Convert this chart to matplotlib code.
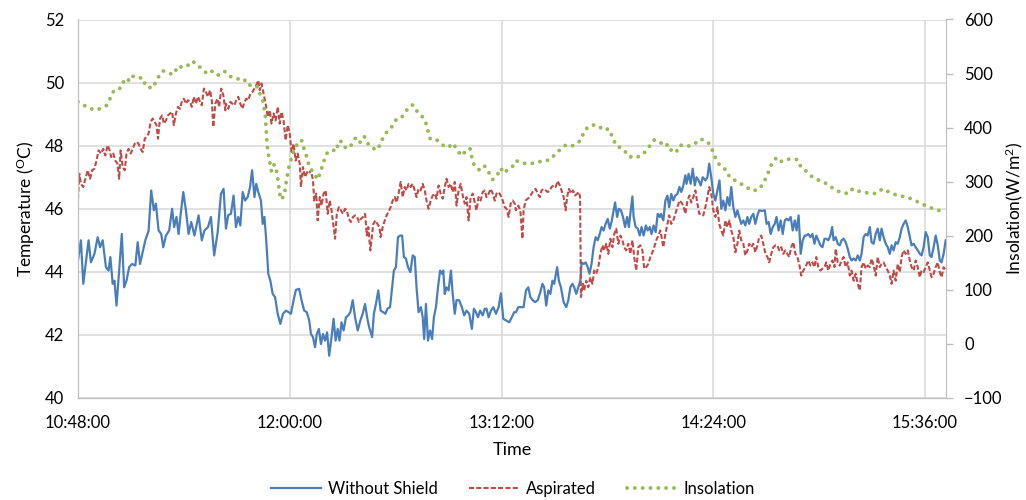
import matplotlib
matplotlib.use('Agg')
import matplotlib.pyplot as plt

plt.rcParams['font.family'] = ['Lato', 'DejaVu Sans']

# x axis: minutes after 10:48:00
tick_minutes = [0, 72, 144, 216, 288]
tick_labels = ['10:48:00', '12:00:00', '13:12:00', '14:24:00', '15:36:00']

# Without Shield (degC)
t_shield = [0.0, 1.0, 1.8, 2.5, 3.6, 4.4, 5.6, 6.7, 7.5, 8.4, 9.5, 10.4, 11.0, 11.8, 12.4,
            13.1, 14.0, 14.9, 15.7, 16.5, 17.4, 18.4, 19.5, 20.3, 21.1, 22.0, 22.9, 24.0, 24.9, 25.8,
            26.5, 27.4, 28.3, 29.0, 29.9, 31.0, 32.0, 32.7, 33.5, 34.2, 35.0, 35.8, 36.7, 37.6, 38.5,
            39.6, 41.0, 42.1, 43.0, 44.2, 45.2, 46.3, 47.5, 48.6, 49.5,
            50.3, 51.1, 52.0, 52.9, 53.7, 54.5, 55.2, 56.0, 56.8, 57.7, 58.5, 59.2, 60.0, 60.6, 61.3,
            62.2, 62.8, 63.4, 64.0, 64.7, 65.4, 66.2, 67.0, 67.9, 68.8, 69.7, 70.7, 71.6, 72.4, 73.3,
            74.1, 75.2, 76.0, 76.9, 77.8, 78.6, 79.2, 79.9, 80.6, 81.2, 81.9, 82.6, 83.3, 84.0, 84.7,
            85.4, 86.2, 86.9, 87.6, 88.3, 88.9, 89.6, 90.3, 91.1, 91.9, 92.6, 93.4, 94.2, 95.1, 96.0,
            96.8, 97.6, 98.3, 99.0,
            100.0, 100.6, 101.3, 102.1, 102.9, 103.8, 104.5, 105.2, 106.1, 106.8, 107.4, 108.1, 108.8,
            109.5, 110.2, 110.8, 111.5, 112.2, 113.0, 113.8, 114.5, 115.1, 115.8, 116.6, 117.2, 117.7,
            118.3, 119.0, 119.7, 120.4, 121.0, 121.7, 122.4, 123.1, 123.8, 124.2, 124.7, 125.3, 126.0,
            126.8, 127.4, 128.1, 128.7, 129.6, 130.5, 131.3, 132.1, 133.0, 133.9, 134.6, 135.3, 136.0,
            136.7, 137.6, 138.3, 138.9, 139.6, 140.4, 141.2, 142.1, 143.0, 143.8, 144.6, 145.5, 146.6,
            147.5, 148.3,
            148.9, 149.7, 151.5, 152.3, 153.1, 153.8, 154.6, 155.4, 156.3, 157.2, 157.9, 158.5, 159.2,
            159.9, 160.6, 161.3, 161.9, 162.9, 163.5, 164.2, 165.1, 166.0, 166.7, 167.4, 168.1, 168.7,
            169.4, 170.1, 170.8, 171.2, 171.9, 172.6, 173.3, 173.9, 174.6, 175.3, 176.0, 176.7, 177.4,
            178.0, 178.7, 179.4, 180.1, 180.8, 181.4, 182.1, 182.6, 183.3, 183.9, 184.6, 185.3, 186.0,
            186.7, 187.3, 187.8, 188.5, 188.9, 189.6, 190.3, 191.0, 191.6, 192.3, 193.1, 193.7, 194.4,
            195.0, 195.7, 196.4, 197.1, 197.8,
            198.2, 199.0, 199.7, 200.4, 201.0, 201.7, 202.4, 203.1, 203.8, 204.5, 205.1, 205.8, 206.5,
            206.9, 207.6, 208.3, 209.0, 209.7, 210.3, 211.0, 211.7, 212.4, 213.3, 214.0, 214.6, 215.3,
            216.0, 216.7, 217.4, 218.1, 218.7, 219.4, 220.1, 220.8, 221.5, 222.1, 222.8, 223.5, 224.2,
            224.8, 225.5, 226.2, 226.9, 227.6, 228.2, 228.9, 229.6, 230.3, 231.0, 231.6, 232.6, 233.5,
            234.1, 234.8, 235.5, 236.2, 236.9, 237.5, 238.2, 238.9, 239.6, 240.3, 240.9, 241.6, 242.3,
            243.0, 243.7, 244.3, 245.0, 245.7, 246.4, 247.1,
            247.5, 248.3, 249.0, 249.7, 250.4, 251.0, 251.7, 252.4, 253.1, 253.8, 254.4, 255.1, 255.8,
            256.4, 256.9, 257.6, 258.3, 259.0, 259.6, 260.3, 261.0, 261.7, 262.4, 263.0, 263.7, 264.4,
            265.1, 265.8, 266.4, 267.1, 267.8, 268.5, 269.2, 269.8, 270.5, 271.2, 271.9, 272.6, 273.2,
            273.9, 274.6, 275.3, 276.0, 276.6, 277.3, 278.0, 278.7, 279.4, 280.0, 280.7, 281.4, 282.1,
            282.8, 283.4, 284.1, 284.8, 285.5, 286.2, 286.8, 287.5, 288.2, 288.9, 289.6, 290.2, 290.9,
            291.6, 292.3, 293.0, 293.6, 294.3, 295.0]
shield = [44.36, 45.0, 43.62, 44.15, 45.0, 44.3, 44.57, 45.1, 44.78, 45.0, 44.15, 44.04, 44.47, 43.62, 43.72,
          42.93, 44.04, 45.2, 43.51, 43.72, 44.15, 44.25, 44.2, 44.94, 44.25, 44.62, 45.0, 45.3, 46.58, 45.95,
          46.16, 45.31, 45.2, 44.78, 45.15, 45.31, 46.0, 45.42, 45.74, 45.2, 45.9, 46.53, 45.95, 45.2, 45.58,
          45.15, 45.79, 45.0, 45.31, 45.42, 45.74, 44.52, 45.26, 46.47, 46.63,
          45.37, 45.8, 45.84, 46.42, 45.42, 45.74, 45.47, 46.53, 46.26, 46.37, 46.69, 47.22, 46.37, 46.79, 46.53,
          46.26, 45.52, 45.74, 45.0, 43.94, 43.72, 43.3, 43.2, 42.67, 42.35, 42.67, 42.77, 42.72, 42.67, 43.1,
          43.43, 43.46, 43.1, 42.77, 42.72, 42.46, 42.03, 41.93, 41.61, 42.03, 42.19, 41.71, 42.03, 41.82, 42.08,
          41.34, 41.93, 42.51, 41.82, 42.19, 41.82, 42.4, 42.14, 42.56, 42.62, 42.72, 43.1, 42.56, 42.14, 42.46,
          42.67, 42.98, 42.56, 42.24,
          41.93, 42.67, 42.98, 43.41, 42.77, 42.72, 42.67, 42.83, 42.88, 43.51, 44.04, 44.15, 45.1,
          45.15, 45.15, 44.47, 44.42, 44.15, 43.99, 44.52, 44.47, 43.51, 42.72, 42.88, 42.56, 41.87,
          42.98, 41.82, 42.14, 41.87, 42.56, 42.88, 43.51, 44.04, 43.94, 44.04, 43.3, 43.51, 43.41,
          44.04, 43.3, 42.67, 43.1, 43.1, 42.88, 42.62, 42.77, 42.67, 42.19, 42.83, 42.72, 42.56,
          42.77, 42.62, 42.83, 42.83, 42.56, 42.77, 42.88, 42.67, 42.88, 43.32, 42.51, 42.46, 42.4,
          42.56, 42.72,
          42.72, 42.88, 42.88, 43.41, 43.51, 43.2, 43.1, 43.04, 43.1, 43.36, 43.62, 43.51, 42.93,
          43.41, 43.3, 43.72, 43.62, 44.15, 43.72, 43.51, 43.04, 42.88, 43.1, 43.51, 43.62, 43.51,
          43.3, 43.51, 43.72, 44.3, 44.25, 44.3, 44.15, 43.94, 44.25, 44.78, 45.1, 45.0, 45.2,
          45.42, 45.31, 45.52, 45.68, 45.37, 45.58, 45.95, 46.2, 45.74, 46.0, 45.95, 45.74, 45.42,
          45.74, 45.42, 45.84, 46.39, 45.74, 45.42, 45.37, 45.15, 45.42, 45.15, 45.47, 45.31, 45.42,
          45.2, 45.47, 45.26, 45.84, 45.74,
          45.84, 45.63, 46.26, 46.42, 46.05, 46.47, 46.26, 46.42, 46.47, 46.69, 46.53, 46.74, 47.06,
          46.79, 47.11, 46.79, 47.27, 46.74, 47.0, 46.9, 46.74, 47.0, 46.9, 47.0, 47.43, 47.0,
          46.47, 46.26, 46.58, 46.9, 46.0, 46.26, 45.95, 46.37, 46.1, 46.69, 46.05, 45.74, 45.95,
          45.74, 45.52, 45.63, 45.47, 45.74, 45.52, 45.74, 45.84, 45.52, 45.79, 45.95, 45.93, 45.95,
          45.52, 45.58, 45.2, 45.42, 45.52, 45.74, 45.31, 45.63, 45.2, 45.63, 45.68, 45.63, 45.74,
          45.31, 45.63, 45.31, 45.79, 44.57, 45.0, 45.15,
          45.15, 45.2, 45.1, 45.2, 44.89, 45.15, 45.0, 44.84, 44.78, 45.05, 45.05, 45.0, 45.15,
          45.42, 45.0, 45.1, 44.89, 44.84, 45.0, 45.05, 44.94, 44.73, 44.47, 44.36, 44.42, 44.36,
          44.52, 44.36, 44.57, 45.1, 45.2, 45.15, 45.42, 44.94, 44.89, 45.2, 45.37, 45.0, 45.37,
          45.1, 44.89, 44.78, 44.57, 44.84, 44.68, 44.94, 44.89, 45.1, 45.37, 45.52, 45.63, 45.42,
          45.1, 44.84, 44.89, 44.78, 44.68, 44.57, 44.52, 44.78, 45.26, 45.1, 44.52, 44.47, 44.78,
          45.15, 44.84, 44.36, 44.3, 44.57, 45.0]

# Aspirated (degC)
t_asp = [0.0, 0.45, 1.0, 1.8, 2.5, 3.3, 4.1, 4.8, 5.6, 6.3, 7.0, 7.8, 8.6, 9.3, 10.1,
         10.6, 11.3, 12.0, 12.7, 13.4, 14.0, 14.5, 15.2, 15.9, 16.5, 17.2, 17.9, 18.6, 19.3, 20.0,
         20.6, 21.3, 22.0, 22.7, 23.3, 24.0, 24.7, 25.4, 26.1, 26.7, 27.2, 27.9, 28.6, 29.2, 29.9,
         30.6, 31.3, 32.0, 32.6, 33.3, 34.0, 34.7, 35.4, 36.0, 36.7, 37.4, 38.1, 38.7, 39.4, 40.1,
         40.8, 41.5, 42.1, 42.8, 43.5, 44.2, 44.9, 45.5, 46.0, 46.7, 47.4, 48.0, 48.7, 49.4, 50.1,
         50.3, 51.1, 51.8, 52.5, 53.2, 53.8, 54.5, 55.2, 55.9, 56.6, 57.2, 57.9, 58.6, 59.3, 60.0,
         60.6, 61.3, 61.8, 62.4, 63.1, 63.8, 64.5, 65.2, 65.8, 66.5, 67.2, 67.9, 68.6, 69.2, 69.9,
         70.6, 71.3, 72.0, 72.6, 73.3, 74.0, 74.7, 75.4, 75.8, 76.5, 77.2, 77.9, 78.5, 79.2, 79.9,
         80.3, 81.0, 81.5, 82.2, 82.8, 83.5, 84.2, 84.9, 85.6, 86.2, 86.9, 87.4, 88.0, 88.7, 89.4,
         90.1, 90.8, 91.4, 92.1, 92.8, 93.5, 94.2, 94.9, 95.5, 96.2, 96.9, 97.6, 98.2, 98.7, 99.4,
         100.4, 101.1, 101.8, 102.5, 102.9, 103.6, 104.3, 104.9, 105.6, 106.3, 107.0, 107.7, 108.3,
         109.0, 109.7, 110.4, 111.1, 111.7, 112.4, 113.1, 113.8, 114.5, 115.1, 115.8, 116.5, 117.2,
         117.9, 118.5, 119.2, 119.9, 120.6, 121.3, 121.9, 122.6, 123.3, 124.0, 124.7, 125.3, 126.0,
         126.7, 127.4, 128.1, 128.7, 129.4, 130.1, 130.8, 131.5, 132.1, 132.8, 133.5, 134.2, 134.9,
         135.5, 136.2, 136.9, 137.6, 138.3, 138.9, 139.6, 140.3, 141.0, 141.7, 142.3, 143.0, 143.7,
         144.4, 145.1, 145.7, 146.4, 147.1, 147.8, 148.5,
         148.9, 149.7, 150.4, 151.1, 151.5, 152.2, 152.9, 153.6, 154.2, 154.9, 155.6, 156.3, 157.0,
         157.6, 158.3, 159.0, 159.7, 160.4, 161.0, 161.7, 162.4, 163.1, 163.8, 164.4, 165.1, 165.8,
         166.3, 166.9, 167.6, 168.3, 169.0, 169.7, 170.3, 170.7, 171.0, 171.7, 172.1, 172.8, 173.5,
         174.2, 174.9, 175.5, 176.2, 176.9, 177.6, 178.3, 178.9, 179.6, 180.3, 181.0, 181.7, 182.3,
         183.0, 183.7, 184.4, 185.1, 185.7, 186.4, 187.1, 187.8, 188.5, 189.1, 189.8, 190.5, 191.2,
         191.9, 192.5, 193.2, 193.9, 194.6, 195.3, 195.9, 196.6, 197.3, 198.0,
         199.0, 199.7, 200.4, 201.0, 201.7, 202.4, 203.1, 203.8, 204.5, 205.1, 205.8, 206.5, 207.2,
         207.9, 208.5, 209.2, 209.9, 210.6, 211.2, 211.9, 212.6, 213.3, 214.0, 214.6, 215.3, 216.0,
         216.7, 217.4, 218.0, 218.7, 219.4, 220.1, 220.8, 221.5, 222.1, 222.8, 223.5, 224.2, 224.8,
         225.5, 226.2, 226.9, 227.6, 228.2, 228.9, 229.6, 230.3, 231.0, 231.6, 232.3, 233.0, 233.7,
         234.4, 235.0, 235.7, 236.4, 237.1, 237.8, 238.4, 239.1, 239.8, 240.5, 241.2, 241.8, 242.5,
         243.2, 243.9, 244.6, 245.2, 245.9, 246.6, 247.3,
         248.3, 249.0, 249.7, 250.4, 251.0, 251.7, 252.4, 253.1, 253.8, 254.4, 255.1, 255.8, 256.5,
         257.2, 257.6, 258.3, 259.0, 259.6, 260.3, 261.0, 261.7, 262.4, 263.0, 263.7, 264.4, 265.1,
         265.8, 266.4, 267.1, 267.8, 268.5, 269.2, 269.8, 270.5, 271.2, 271.9, 272.6, 273.2, 273.9,
         274.6, 275.3, 276.0, 276.6, 277.3, 278.0, 278.7, 279.4, 280.0, 280.7, 281.4, 282.1, 282.8,
         283.4, 284.1, 284.8, 285.5, 286.2, 286.8, 287.5, 288.2, 288.9, 289.6, 290.2, 290.9, 291.6,
         292.3, 293.0, 293.6, 294.3, 295.0]
asp = [46.3, 47.11, 46.79, 46.69, 46.95, 47.22, 46.95, 47.22, 47.27, 47.53, 47.85, 47.75, 47.9, 47.69, 48.01,
       47.9, 47.64, 47.75, 47.53, 47.43, 46.95, 47.85, 47.32, 47.22, 47.75, 47.9, 47.75, 47.9, 48.06, 48.12,
       48.06, 47.9, 47.8, 48.22, 48.28, 48.38, 48.75, 48.86, 48.75, 48.65, 48.22, 48.86, 48.96, 48.7, 48.8,
       48.96, 49.02, 49.07, 48.65, 49.02, 49.23, 49.17, 49.44, 49.49, 49.33, 49.44, 49.39, 49.23, 49.55, 49.33,
       49.55, 49.39, 49.28, 49.81, 49.7, 49.55, 49.76, 49.44, 48.59, 49.33, 49.49, 49.23, 49.81, 49.6, 49.12,
       49.33, 49.17, 49.39, 49.33, 49.28, 49.44, 49.55, 49.33, 49.17, 49.39, 49.49, 49.44, 49.65, 49.7, 49.81,
       49.92, 50.07, 49.76, 49.97, 49.65, 49.33, 48.91, 49.12, 48.7, 49.02, 48.8, 49.23, 48.7, 49.07, 48.8,
       48.17, 48.65, 48.38, 47.8, 48.06, 47.53, 47.75, 47.43, 46.69, 47.32, 47.0, 47.16, 47.11, 47.22, 46.9,
       46.26, 46.48, 45.63, 46.37, 46.1, 46.48, 46.58, 45.84, 46.26, 45.95, 45.42, 45.05, 45.84, 46.05, 45.95,
       45.84, 46.0, 45.95, 45.68, 45.58, 45.74, 45.79, 45.74, 45.58, 45.68, 45.74, 45.84, 45.15, 45.42, 44.68,
       45.52, 45.63, 45.52, 45.42, 45.1, 45.42, 45.63, 45.79, 45.9, 46.05, 46.26, 46.37, 46.2,
       46.48, 46.85, 46.37, 46.69, 46.58, 46.79, 46.69, 46.79, 46.58, 46.37, 46.63, 46.58, 46.79,
       46.58, 46.26, 46.0, 46.26, 46.42, 46.48, 46.32, 46.74, 46.48, 46.32, 46.69, 46.95, 46.69,
       46.79, 46.53, 46.85, 46.1, 46.58, 46.79, 46.42, 46.16, 46.37, 45.63, 46.37, 46.48, 46.2,
       45.95, 46.37, 46.26, 46.53, 46.58, 46.37, 46.48, 46.63, 46.48, 46.26, 46.48, 46.53, 46.42,
       46.26, 46.05, 46.0, 45.74, 46.16, 46.26, 46.16,
       45.95, 46.1, 45.95, 45.05, 45.95, 46.26, 46.32, 46.37, 46.48, 46.58, 46.63, 46.48, 46.37,
       46.58, 46.63, 46.58, 46.53, 46.58, 46.69, 46.74, 46.69, 46.88, 46.74, 46.58, 46.37, 45.95,
       46.37, 46.63, 46.48, 46.58, 46.42, 46.48, 46.53, 46.37, 43.2, 43.62, 43.41, 43.72, 43.51,
       43.83, 43.62, 44.04, 43.94, 44.15, 44.57, 44.84, 44.68, 44.89, 44.57, 45.05, 44.78, 45.2,
       45.37, 44.89, 45.15, 45.0, 44.78, 44.68, 44.89, 44.57, 45.0, 44.47, 44.04, 44.78, 44.84,
       44.68, 44.1, 44.15, 44.25, 44.47, 44.62, 44.78, 45.0, 45.15, 45.31,
       44.78, 45.2, 45.52, 45.79, 45.52, 45.63, 45.84, 46.05, 46.26, 46.2, 46.1, 45.84, 46.26,
       46.42, 46.2, 46.37, 46.58, 46.16, 45.84, 45.84, 45.79, 46.05, 46.37, 46.69, 46.48, 45.95,
       45.74, 46.05, 45.52, 45.31, 45.15, 45.63, 45.42, 45.63, 45.31, 45.1, 44.62, 44.89, 45.31,
       45.0, 44.89, 44.52, 44.68, 44.89, 44.78, 44.89, 44.62, 44.84, 45.1, 45.15, 44.89, 44.57,
       44.47, 44.3, 44.57, 44.78, 44.84, 44.84, 44.68, 44.78, 44.57, 44.68, 44.57, 44.47, 44.78,
       44.94, 44.57, 44.47, 44.25, 43.88, 44.04, 44.15,
       44.36, 44.2, 44.3, 44.15, 44.47, 44.15, 44.04, 44.1, 44.15, 44.3, 44.04, 44.25, 44.36,
       44.15, 44.73, 44.3, 44.2, 44.36, 44.47, 44.15, 44.3, 43.88, 44.04, 43.72, 43.94, 43.62,
       43.41, 44.15, 44.3, 44.1, 44.2, 44.15, 44.42, 44.2, 43.88, 44.47, 44.15, 44.25, 44.3,
       44.15, 44.04, 43.88, 43.62, 44.04, 43.72, 44.25, 43.99, 44.47, 44.68, 44.57, 44.68, 44.36,
       44.15, 44.04, 44.36, 44.15, 43.83, 44.04, 43.99, 44.15, 44.3, 44.04, 43.83, 43.94, 44.15,
       44.3, 43.99, 43.83, 44.15, 44.04]

# Insolation (W/m2)
t_ins = [0.0, 1.6, 3.3, 5.0, 6.7, 8.4, 9.7, 10.6, 11.8, 12.9, 14.6, 15.7, 16.9, 18.0, 19.7,
         22.0, 23.1, 25.4, 27.1, 29.0, 31.0, 32.7, 33.9, 35.8, 37.6, 38.7, 40.1, 42.2, 44.1, 45.8,
         47.8, 49.7,
         50.3, 52.0, 54.1, 56.3, 57.9, 59.5, 61.1, 62.0, 62.8, 63.3, 63.7, 63.9, 64.3, 64.7, 65.3,
         65.8, 66.7, 67.7, 68.1, 68.4, 69.0, 70.2, 70.5, 71.1, 71.6, 72.4, 73.3, 74.5, 76.0, 76.9,
         77.9, 78.6, 79.8, 81.5, 82.6, 83.5, 84.7, 86.6, 87.7, 88.8, 90.0, 91.1, 93.0, 94.5, 95.9,
         97.3, 98.5,
         100.0, 101.9, 103.0, 104.7, 106.5, 108.1, 109.6, 111.3, 112.4, 113.8, 114.7, 116.3, 118.1,
         118.9, 119.7, 121.5, 122.8, 124.2, 125.7, 127.6, 128.7, 130.4, 132.5, 133.3, 133.9, 134.7,
         136.4, 138.1, 139.6, 141.0, 142.3, 143.8, 144.6, 146.1, 147.5,
         148.9, 151.2, 153.5, 155.4, 158.0, 160.3, 162.3, 164.2, 165.6, 167.6, 169.7, 171.0, 172.1,
         173.8, 175.5, 176.7, 178.9, 180.3, 181.8, 182.9, 185.5, 187.1, 189.7, 192.3, 194.2, 195.9,
         197.6,
         199.9, 201.0, 202.2, 203.3, 204.7, 206.7, 209.2, 211.6, 214.1, 215.6, 216.7, 218.3, 220.3,
         221.7, 224.3, 226.9, 229.4, 231.6, 233.3, 234.6, 235.7, 237.5, 239.3, 241.8, 244.6, 245.8,
         247.3,
         249.8, 252.1, 254.7, 257.1, 259.4, 262.0, 263.4, 266.2, 269.0, 271.3, 273.6, 276.4, 278.9,
         281.6, 284.3, 286.9, 289.8, 292.6, 295.0]
ins = [448, 443, 437, 434, 433, 438, 441, 450, 465, 472, 473, 488, 485, 497, 492,
       492, 476, 473, 492, 505, 500, 499, 514, 511, 516, 523, 519, 508, 499, 505,
       497, 504,
       503, 494, 490, 491, 478, 480, 475, 460, 451, 436, 420, 402, 368, 351, 334,
       319, 332, 316, 299, 282, 267, 275, 291, 308, 325, 340, 356, 369, 377, 360,
       344, 328, 319, 304, 320, 337, 353, 359, 356, 376, 373, 361, 368, 382, 373,
       384, 371,
       362, 359, 374, 390, 400, 414, 416, 428, 438, 442, 433, 426, 412,
       396, 380, 380, 373, 367, 363, 371, 360, 348, 361, 361, 345, 330,
       322, 330, 318, 304, 310, 325, 316, 322, 326,
       339, 334, 334, 334, 339, 340, 351, 361, 367, 365, 371, 377, 394,
       403, 405, 404, 395, 398, 382, 367, 360, 347, 344, 352, 365, 377,
       371,
       373, 358, 359, 354, 368, 365, 368, 379, 374, 359, 344, 329, 322,
       307, 300, 291, 283, 286, 300, 316, 331, 345, 337, 342, 341, 327,
       321,
       308, 302, 296, 286, 280, 278, 287, 281, 279, 278, 287, 279, 274,
       272, 266, 259, 252, 247, 241]

fig = plt.figure(figsize=(10.26, 5.0), dpi=100)
ax = fig.add_axes([0.076, 0.204, 0.846, 0.757])
ax2 = ax.twinx()

l1, = ax.plot(t_shield, shield, color='#4a7ebb', lw=1.6, label='Without Shield')
l2, = ax.plot(t_asp, asp, color='#be4b48', lw=1.5, linestyle=(0, (2.4, 1.1)), label='Aspirated')
l3, = ax2.plot(t_ins, ins, color='#98b954', lw=2.8, linestyle=(0, (0.01, 2.0)),
               dash_capstyle='round', label='Insolation')

grid_c = '#d9d9d9'
spine_c = '#bfbfbf'

ax.set_xlim(0, 295.1)
ax.set_ylim(40, 52)
ax.set_yticks(range(40, 53, 2))
ax.set_xticks(tick_minutes)
ax.set_xticklabels(tick_labels)
ax.grid(True, color=grid_c, lw=1.1)
ax.set_axisbelow(True)
ax.tick_params(axis='x', length=0, pad=12, labelsize=12)
ax.tick_params(axis='y', length=0, pad=10, labelsize=12)

ax2.set_ylim(-100, 600)
ax2.set_yticks(range(-100, 601, 100))
ax2.tick_params(axis='y', length=5, width=1, color=spine_c, pad=8, labelsize=12)

for a in (ax, ax2):
    for s in a.spines.values():
        s.set_color(spine_c)
    a.spines['top'].set_visible(False)
ax.spines['right'].set_visible(False)

ax.set_ylabel(r'Temperature ($\mathregular{^{O}}$C)', fontsize=12.5, labelpad=6)
ax2.set_ylabel(r'Insolation(W/m$\mathregular{^{2}}$)', fontsize=12.5, labelpad=1)
ax.set_xlabel('Time', fontsize=13, labelpad=8)

fig.legend(handles=[l1, l2, l3], loc='center', bbox_to_anchor=(0.5, 0.022), ncol=3,
           frameon=False, fontsize=12, handlelength=3.0, handletextpad=0.4, columnspacing=1.9)

fig.savefig('out.png', dpi=100)
